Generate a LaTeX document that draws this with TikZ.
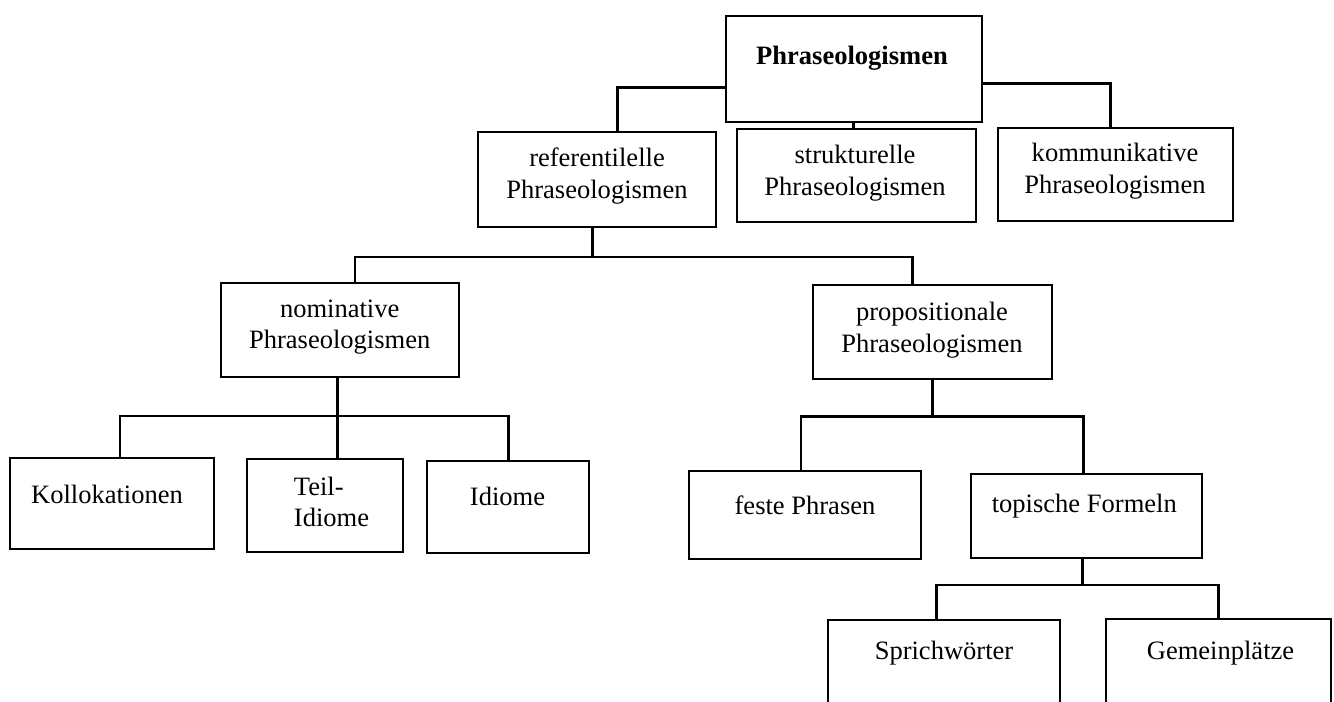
\documentclass[tikz,border=0pt]{standalone}
\usepackage{fontspec}
\setmainfont{Liberation Serif}
\usetikzlibrary{fit}
\begin{document}
\begin{tikzpicture}[x=0.75pt,y=-0.75pt,
  box/.style={draw, line width=1.3pt, inner sep=0pt},
  con/.style={draw, line width=1.9pt},
  lbl/.style={font=\fontsize{19.9}{23.6}\selectfont, align=center, inner sep=0pt}]
\path[use as bounding box] (0,0) rectangle (1334,702);
\clip (0,0) rectangle (1334,702);
% boxes
\node[box, fit={(725.7,15.7) (981.7,121.7)}] (phr) {};
\node[box, fit={(477.7,132) (716,226.7)}] (ref) {};
\node[box, fit={(736.7,129) (975.7,222.3)}] (struk) {};
\node[box, fit={(998.3,128.3) (1233.3,221)}] (komm) {};
\node[box, fit={(221,283.3) (459.3,376.7)}] (nom) {};
\node[box, fit={(812.7,285) (1051.7,379.3)}] (prop) {};
\node[box, fit={(10,458.3) (214.3,549.3)}] (koll) {};
\node[box, fit={(246.7,459) (402.7,551.7)}] (teil) {};
\node[box, fit={(426.7,460.7) (589,553.3)}] (idi) {};
\node[box, fit={(689,471) (921,559.3)}] (feste) {};
\node[box, fit={(970.7,474.3) (1201.7,558.3)}] (topi) {};
\node[box, fit={(828.3,620) (1060,730)}] (spr) {};
\node[box, fit={(1105.7,619) (1331,730)}] (gem) {};
% texts
\node[lbl] (phrT) at (852,58) {\textbf{Phraseologismen}};
\node[lbl] (refT) at (597,176) {referentilelle\\Phraseologismen};
\node[lbl] (strukT) at (855,173) {strukturelle\\Phraseologismen};
\node[lbl] (kommT) at (1115,171) {kommunikative\\Phraseologismen};
\node[lbl] (nomT) at (339.7,327) {nominative\\Phraseologismen};
\node[lbl] (propT) at (932,330) {propositionale\\Phraseologismen};
\node[lbl] (kollT) at (107,494) {Kollokationen};
\node[lbl, align=left] (teilT) at (331.5,502) {Teil-\\Idiome};
\node[lbl] (idiT) at (507.5,496) {Idiome};
\node[lbl] (festeT) at (805,505) {feste Phrasen};
\node[lbl] (topiT) at (1084.3,506) {topische Formeln};
\node[lbl] (sprT) at (944,653) {Sprichwörter};
\node[lbl] (gemT) at (1220.5,653) {Gemeinplätze};
% connectors
\coordinate (c1) at (617.3,87.3);
\draw[con] (phr.west |- c1) -- (c1) -- (c1 |- ref.north);
\coordinate (c2) at (1110.7,83.3);
\draw[con] (phr.east |- c2) -- (c2) -- (c2 |- komm.north);
\coordinate (c3) at (853.3,125);
\draw[con] (c3 |- phr.south) -- (c3 |- struk.north);
\coordinate (c4) at (592.7,257);
\coordinate (c4l) at (355,257);
\coordinate (c4r) at (912.7,257);
\draw[con] (c4 |- ref.south) -- (c4);
\draw[con] (c4l |- nom.north) -- (c4l) -- (c4r) -- (c4r |- prop.north);
\coordinate (c5) at (337.7,416);
\coordinate (c5l) at (120,416);
\coordinate (c5r) at (508.3,416);
\draw[con] (c5 |- nom.south) -- (c5 |- teil.north);
\draw[con] (c5l |- koll.north) -- (c5l) -- (c5r) -- (c5r |- idi.north);
\coordinate (c6) at (932.3,416.5);
\coordinate (c6l) at (801,416.5);
\coordinate (c6r) at (1083.3,416.5);
\draw[con] (c6 |- prop.south) -- (c6);
\draw[con] (c6l |- feste.north) -- (c6l) -- (c6r) -- (c6r |- topi.north);
\coordinate (c7) at (1082.3,585);
\coordinate (c7l) at (936.7,585);
\coordinate (c7r) at (1218.3,585);
\draw[con] (c7 |- topi.south) -- (c7);
\draw[con] (c7l |- spr.north) -- (c7l) -- (c7r) -- (c7r |- gem.north);
\end{tikzpicture}
\end{document}
